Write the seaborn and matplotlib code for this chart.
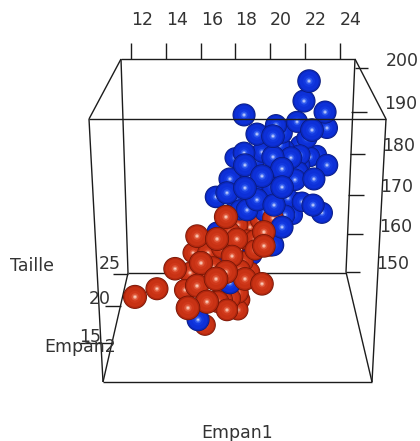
import matplotlib
matplotlib.use("Agg")
import matplotlib.pyplot as plt
from matplotlib.transforms import Affine2D
import pandas as pd
import seaborn as sns

blue_empan1 = [22.22,21.93,23.14,18.49,20.32,21.53,23.25,22.39,19.23,20.15,20.67,22.1,18.49,17.97,18.54,20.15,19.52,21.18,
               20.67,21.7,22.27,22.68,23.25,19.52,17.68,18.54,20.67,21.41,22.5,21.59,16.88,17.51,19.58,20.15,19.0,19.23,
               20.21,18.66,22.45,22.96,20.67,21.01,21.82,20.95,21.41,18.26,17.97,20.15,16.94,17.68,15.85,18.95,17.11,21.7,20.84,
               19.12,21.7,20.55,20.84,19.69,18.83,21.3]
blue_taille = [196.8,191.9,189.2,188.5,186.0,186.8,185.3,184.8,183.8,183.3,184.1,182.8,179.2,178.0,176.2,178.2,179.4,178.0,
               175.3,178.7,178.2,178.7,176.2,173.5,172.8,170.6,170.8,172.6,172.8,174.5,168.4,169.4,168.4,170.8,169.6,167.7,
               166.4,165.2,166.4,164.5,161.0,168.1,167.2,165.7,167.2,165.2,168.1,156.6,159.8,147.3,138.3,154.2,152.2,181.1,179.9,
               177.5,176.2,181.1,164.0,164.7,173.8,164.0]
blue_empan2 = [16,17,17,17,19,19,19,16,17,16,20,21,18,21,16,17,21,18,
               16,21,22,23,18,16,17,16,16,18,17,20,18,17,20,18,19,17,
               17,18,17,19,17,22,22,23,23,21,22,18,21,18,17,22,22,23,22,
               22,22,22,22,22,22,23]

red_empan1 = [17.45,15.79,16.94,18.08,19.63,19.63,20.15,18.83,18.14,19.4,18.66,14.53,16.02,15.56,17.8,18.43,15.39,17.45,16.88,
              18.54,15.79,19.52,13.49,12.23,15.1,16.36,15.27,16.99,17.68,18.14,17.51,16.25,16.53,18.83,16.42,17.28,16.71,17.22,
              17.22,18.95,18.26,19.12,17.68,19.98,19.98,19.12,16.25,18.26,15.96,18.14]
red_taille = [163.5,158.8,158.1,158.1,159.8,156.4,163.2,161.0,161.5,162.8,157.9,150.8,152.2,154.7,153.9,152.5,149.8,150.0,148.3,
              148.3,146.6,147.1,145.9,143.9,145.6,142.7,141.2,142.7,143.6,144.9,140.7,137.0,155.4,150.0,154.7,145.6,151.2,143.2,
              155.9,155.4,143.2,157.9,159.8,159.8,156.4,155.4,148.5,150.5,156.6,140.7]
red_empan2 = [15,16,15,18,16,16,20,23,22,23,22,16,15,21,18,21,19,15,14,
              16,15,16,17,15,19,15,14,18,19,20,18,20,21,22,20,21,20,19,
              20,23,22,21,21,23,20,21,22,21,22,21]

top_ticks = [12, 14, 16, 18, 20, 22, 24]
taille_ticks = [200, 190, 180, 170, 160, 150]
empan2_ticks = [25, 20, 15]

W, H = 420, 441
PX_X, PX_Y = 17.42, 4.08

shades = {
    "Homme": ["#0a1a78", "#0b28bc", "#0d30d8", "#1238e0", "#2c57ee", "#7390f5", "#e4ebff"],
    "Femme": ["#701505", "#b0270f", "#c83214", "#d0381a", "#dd5436", "#ee947a", "#fde4da"],
}
fractions = [1.0, 0.94, 0.82, 0.5, 0.3, 0.17, 0.07]

points = pd.concat([
    pd.DataFrame({"Empan1": blue_empan1, "Taille": blue_taille, "Empan2": blue_empan2, "Sexe": "Homme"}),
    pd.DataFrame({"Empan1": red_empan1, "Taille": red_taille, "Empan2": red_empan2, "Sexe": "Femme"}),
], ignore_index=True).sort_values("Empan2", ascending=False, kind="stable")

rows = []
for p in points.itertuples():
    radius = 12.3 - (p.Empan2 - 14) * 0.25
    for k, f in enumerate(fractions):
        d_pt = 2 * radius * f * 0.72
        rows.append((p.Empan1, p.Taille, f"{p.Sexe}{k}", d_pt ** 2))
df = pd.DataFrame(rows, columns=["Empan1", "Taille", "shade", "s"])
palette = {f"{sex}{k}": c for sex, cols in shades.items() for k, c in enumerate(cols)}

sns.set_style("white")
plt.rcParams["font.family"] = ["DejaVu Sans"]
fig = plt.figure(figsize=(4.2, 4.41), dpi=100)
ax = fig.add_axes([0, 0, 1, 1])
sns.scatterplot(data=df, x="Empan1", y="Taille", hue="shade", palette=palette, s=df["s"].values,
                linewidth=0, edgecolor="none", legend=False, ax=ax, zorder=3)
ax.set_xlim(12 - 131 / PX_X, 12 + (W - 131) / PX_X)
ax.set_ylim(200 - (H - 68) / PX_Y, 200 + 68 / PX_Y)
ax.set_axis_off()

px = Affine2D().scale(1 / W, -1 / H).translate(0, 1) + fig.transFigure
line_kw = dict(color="#1c1c1c", lw=1.0, transform=px, solid_capstyle="butt")


def seg(x0, y0, x1, y1, z=1):
    ax.plot([x0, x1], [y0, y1], zorder=z, **line_kw)


# box
seg(121, 59, 355, 59)
seg(121, 59, 128, 273)
seg(355, 59, 346, 272)
seg(128, 273, 346, 273)
seg(121, 59, 89, 119)
seg(355, 59, 386, 119)
seg(128, 273, 103, 382)
seg(346, 272, 372, 382)
seg(89, 119, 103, 382)
seg(386, 119, 372, 382)
seg(103, 382, 372, 382)
seg(89, 119, 386, 119, z=5)

txt = dict(transform=px, ha="center", va="center", fontsize=12.5, color="#333333")
for lab, x in zip(top_ticks, [131, 166, 201, 235, 270, 305, 340]):
    seg(x, 43, x, 59)
    ax.text(x + 11, 20, str(lab), **txt)
for lab, (y, x0, x1, tx, ty) in zip(taille_ticks, [(68, 355, 368, 402, 61), (112, 351, 367, 401, 104),
                                                   (154, 350, 365, 399, 146), (195, 348, 364, 397, 187),
                                                   (234, 347, 363, 396, 227), (272, 346, 360, 393, 264)]):
    seg(x0, y, x1, y)
    ax.text(tx, ty, str(lab), **txt)
for lab, (y, x0, x1, tx, ty) in zip(empan2_ticks, [(274, 128, 113, 110, 264), (306, 121, 105, 100, 299),
                                                   (343, 113, 80, 90, 337)]):
    seg(x0, y, x1, y)
    ax.text(tx, ty, str(lab), **txt)
ax.text(32, 266, "Taille", **txt)
ax.text(80, 347, "Empan2", **txt)
ax.text(237, 433, "Empan1", **txt)

fig.savefig("out.png", dpi=100)
